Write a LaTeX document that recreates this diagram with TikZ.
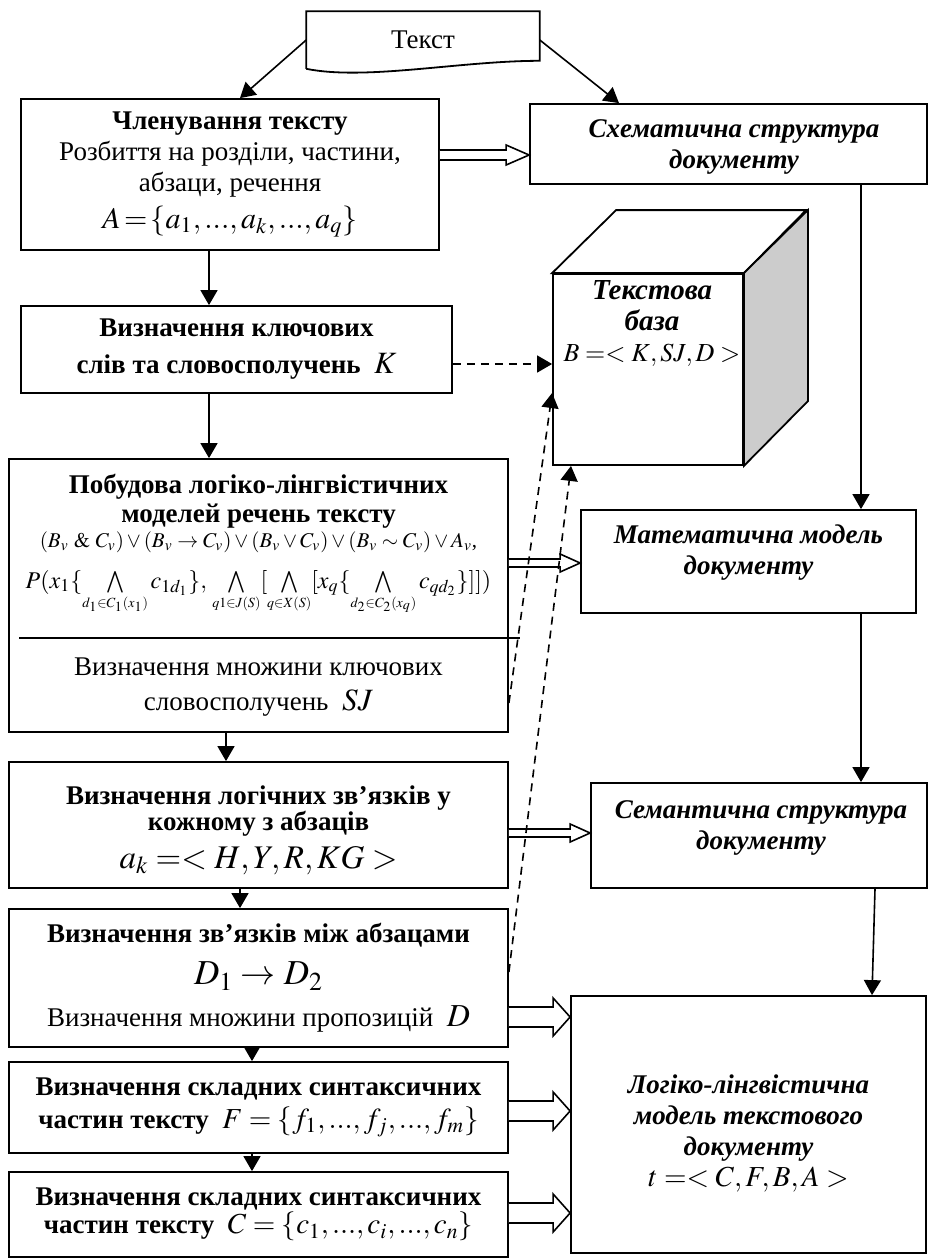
\documentclass[tikz,border=0pt]{standalone}
\usepackage{mathptmx}
\usepackage[no-math]{fontspec}
\setmainfont{Liberation Serif}
\usetikzlibrary{arrows.meta,calc}

% Hollow double arrow between two points at the height of the first one
\newcommand{\fatarrow}[5]{%
	\draw[line width=0.8pt, fill=white, line join=miter] let \p1=(#1), \p2=(#2) in
		(\x1,\y1+#3) -- (\x2-#5,\y1+#3) -- (\x2-#5,\y1+#4) -- (\x2,\y1)
		-- (\x2-#5,\y1-#4) -- (\x2-#5,\y1-#3) -- (\x1,\y1-#3);}
% Small conjunction with its limits below
\newcommand{\bw}[1]{\bigwedge\limits_{\scriptscriptstyle #1}}

\begin{document}
\begin{tikzpicture}[x=0.5pt, y=-0.5pt, line width=0.8pt,
		blok/.style={draw, line width=0.9pt, align=center, inner sep=1pt, font=\fontsize{13.5}{15.5}\selectfont},
		blokit/.style={draw, line width=0.9pt},
		itxt/.style={align=center, font=\fontsize{13.5}{15.5}\selectfont\bfseries\itshape},
		arr/.style={-{Triangle[length=7.5pt, width=8.5pt]}},
		darr/.style={arr, dash pattern=on 4pt off 3pt}]
		
		% Define the size of the page
		\useasboundingbox (0,0) rectangle (928,1259);
		
		% The text at the top
		\node[minimum width=116pt, minimum height=28pt, font=\fontsize{13.5}{15}\selectfont] (tekst) at (423,40) {Текст};
		\draw[line width=0.9pt] (tekst.south west) -- (tekst.north west) -- (tekst.north east) -- ([yshift=4pt]tekst.south east)
			.. controls +(-80,0) and +(60,12) .. (tekst.south west);
		
		% Left column
		\node[blok, minimum width=209pt, minimum height=75.5pt] (chlen) at (230,174.5)
			{\textbf{Членування тексту}\\ Розбиття на розділи, частини,\\ абзаци, речення\\[3pt]
			{\fontsize{15}{17}\selectfont$A\!=\!\{a_1,...,a_k,...,a_q\}$}};
		\node[blok, minimum width=215.5pt, minimum height=43.5pt, font=\fontsize{13.5}{18.5}\selectfont\bfseries] (klyuch) at (236.5,349.5)
			{Визначення ключових\\ слів та словосполучень \ {\fontsize{15.5}{18.5}\selectfont$K$}};
		
		\begin{scope}
			% The box with the two parts
			\node[blok, minimum width=249.5pt, minimum height=136.5pt] (pobud) at (258.5,595.5) {};
			\node[align=center, font=\fontsize{13.5}{14.5}\selectfont\bfseries] (pobudhead) at (258.5,501)
				{Побудова логіко-лінгвістичних\\ моделей речень тексту};
			\node[anchor=base, font=\fontsize{10.5}{12}\selectfont] (formula1) at (258.5,547)
				{$(B_v\ \&\ C_v)\vee(B_v\to C_v)\vee(B_v\vee C_v)\vee(B_v\sim C_v)\vee A_v$,};
			\node[anchor=base, font=\fontsize{12}{14}\selectfont] (formula2) at (258.5,588)
				{$P(x_1\{\bw{d_1\in C_1(x_1)} c_{1d_1}\},\,\bw{q1\in J(S)}[\bw{q\in X(S)}[x_q\{\bw{d_2\in C_2(x_q)} c_{qd_2}\}]])$};
			% Line between the two parts
			\draw[line width=0.9pt] ([xshift=5.5pt]pobud.west |- 0,638) -- ([xshift=5.5pt]pobud.east |- 0,638);
			\node[align=center, font=\fontsize{13.5}{17.5}\selectfont] (pobudsj) at (258.5,687)
				{Визначення множини ключових\\ словосполучень \ {\fontsize{15.5}{17.5}\selectfont$SJ$}};
		\end{scope}
		
		\node[blok, minimum width=249.5pt, minimum height=63pt] (logich) at (258.5,825) {};
		\node[align=center, font=\fontsize{13.5}{13}\selectfont] (logichtxt) at (258.5,830)
			{\textbf{Визначення логічних зв’язків у}\\ \textbf{кожному з абзаців}\\[4pt]
			{\fontsize{16.5}{18}\selectfont$a_k=<H,Y,R,KG>$}};
		\node[blok, minimum width=249.5pt, minimum height=69pt, font=\fontsize{13.5}{21}\selectfont] (mizh) at (258.5,978)
			{\textbf{Визначення зв’язків між абзацами}\\ {\fontsize{17.5}{21}\selectfont$D_1\to D_2$}\\
			Визначення множини пропозицій \ {\fontsize{16}{21}\selectfont$D$}};
		\node[blok, minimum width=249.5pt, minimum height=45.5pt, font=\fontsize{13.5}{16.5}\selectfont] (skl1) at (258.5,1107.5)
			{\textbf{Визначення складних синтаксичних}\\ \textbf{частин тексту} \ {\fontsize{14.5}{16.5}\selectfont$F=\{f_1,...,f_j,...,f_m\}$}};
		\node[blok, minimum width=249.5pt, minimum height=42.5pt, font=\fontsize{13.5}{14}\selectfont] (skl2) at (258.5,1214.5)
			{\textbf{Визначення складних синтаксичних}\\ \textbf{частин тексту} \ {\fontsize{14.5}{16.5}\selectfont$C=\{c_1,...,c_i,...,c_n\}$}};
		
		% Right column
		\node[blokit, minimum width=198.5pt, minimum height=40pt] (schem) at (728.5,144) {};
		\node[itxt] (schemtxt) at (734,147) {Схематична структура\\ документу};
		\node[blokit, minimum width=167.5pt, minimum height=51.5pt] (matem) at (748.5,561.5) {};
		\node[itxt] (matemtxt) at (748.5,553) {Математична модель\\ документу};
		\node[blokit, minimum width=168pt, minimum height=52.5pt] (semant) at (759,835.5) {};
		\node[itxt] (semanttxt) at (761,828) {Семантична структура\\ документу};
		\node[blokit, minimum width=177.5pt, minimum height=128.5pt] (logiko) at (748.5,1124.5) {};
		\node[itxt] (logikotxt) at (748.5,1133)
			{Логіко-лінгвістична\\ модель текстового\\ документу\\ {\mdseries\upshape\fontsize{14.5}{16}\selectfont$t=<C,F,B,A>$}};
		
		\begin{scope}
			% The cube of the base
			\node[draw, line width=0.9pt, minimum width=95pt, minimum height=95.5pt] (baza) at (648,369.5) {};
			\draw[line width=0.9pt] (baza.north west) -- ++(64,-63) -- ++(190,0) -- (baza.north east) -- cycle;
			\draw[line width=0.9pt, fill=gray!40] (baza.north east) -- ++(64,-63) -- ++(0,191) -- (baza.south east) -- cycle;
			\node[align=center, font=\fontsize{14.5}{15.5}\selectfont\bfseries\itshape] (bazatxt) at (652,324)
				{Текстова\\ база\\ {\mdseries\fontsize{13}{14}\selectfont$B=<K,SJ,D>$}};
		\end{scope}
		
		% Arrows
		\draw[arr] (tekst.west) -- (chlen.north -| 240,0);
		\draw[arr] (tekst.east) -- (schem.north -| 619,0);
		\draw[arr] (chlen.south -| 209,0) -- (klyuch.north -| 209,0);
		\draw[arr] (klyuch.south -| 209,0) -- (pobud.north -| 209,0);
		\draw[arr] (pobud.south -| 226,0) -- (logich.north -| 226,0);
		\draw[arr] (logich.south -| 240,0) -- (mizh.north -| 240,0);
		\draw[arr] (mizh.south -| 252,0) -- (skl1.north -| 252,0);
		\draw[arr] (skl1.south -| 252,0) -- (skl2.north -| 252,0);
		\draw[arr] (schem.south -| 861,0) -- (matem.north -| 861,0);
		\draw[arr] (matem.south -| 861,0) -- (semant.north -| 861,0);
		\draw[arr] (semant.south -| 875,0) -- (logiko.north -| 872,0);
		
		% Hollow arrows
		\fatarrow{chlen.east |- 0,155}{schem.west |- 0,155}{2.5pt}{5pt}{11.5pt}
		\fatarrow{pobud.east |- 0,563}{matem.west |- 0,563}{2pt}{4.5pt}{10pt}
		\fatarrow{logich.east |- 0,833}{semant.west |- 0,833}{2pt}{4.5pt}{10pt}
		\fatarrow{mizh.east |- 0,1017}{logiko.west |- 0,1017}{5pt}{9.5pt}{8.5pt}
		\fatarrow{skl1.east |- 0,1111}{logiko.west |- 0,1111}{5pt}{9.5pt}{8.5pt}
		\fatarrow{skl2.east |- 0,1213}{logiko.west |- 0,1213}{5pt}{9.5pt}{8.5pt}
		
		% Dashed arrows to the base
		\draw[darr] (klyuch.east |- 0,364) -- (baza.west |- 0,364);
		\draw[darr] (pobud.east |- 0,703) -- (baza.west |- 0,393);
		\draw[darr] (mizh.east |- 0,972) -- (baza.south -| 571,0);
	\end{tikzpicture}
\end{document}
